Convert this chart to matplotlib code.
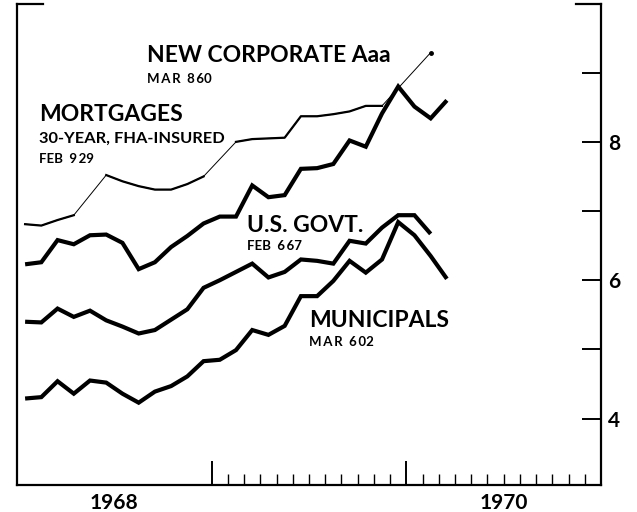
import numpy as np
import matplotlib

matplotlib.use("Agg")
import matplotlib.pyplot as plt

# monthly yields, Jan 1968 onward (percent)
corporate = [6.23, 6.26, 6.58, 6.52, 6.65, 6.66, 6.54, 6.16, 6.26, 6.48, 6.64, 6.82,
             6.92, 6.92, 7.37, 7.20, 7.23, 7.61, 7.62, 7.68, 8.02, 7.93, 8.41, 8.80,
             8.51, 8.34, 8.60]
mortgages = [6.81, 6.79, 6.87, 6.94, np.nan, 7.52, 7.43, 7.36, 7.31, 7.31, 7.39, 7.50,
             np.nan, 8.00, 8.04, 8.05, 8.06, 8.37, 8.37, 8.40, 8.44, 8.52, 8.52, np.nan,
             np.nan, 9.29]
govt = [5.40, 5.39, 5.59, 5.47, 5.56, 5.42, 5.33, 5.23, 5.28, 5.43, 5.58, 5.89,
        6.00, 6.12, 6.24, 6.04, 6.12, 6.30, 6.28, 6.24, 6.57, 6.53, 6.76, 6.94,
        6.94, 6.67]
municipals = [4.29, 4.31, 4.54, 4.36, 4.55, 4.52, 4.36, 4.23, 4.39, 4.47, 4.61, 4.83,
              4.85, 4.99, 5.28, 5.21, 5.34, 5.77, 5.77, 5.99, 6.28, 6.11, 6.30, 6.84,
              6.65, 6.35, 6.02]

year_labels = ["1968", "1970"]
year_centers = [6, 30]
ytick_labels = [4, 6, 8]

FONT = "Lato"
TS = "\u2009"  # thin space, for the letter-spaced month tags


def month_x(values):
    return np.arange(len(values)) + 0.5


def main() -> None:
    fig = plt.figure(figsize=(6.37, 5.12), dpi=100)
    ax = fig.add_axes([17 / 637, 27 / 512, 584 / 637, 481.5 / 512])
    ax.set_xlim(0, 36)
    ax.set_ylim(3.04, 10.0)

    lw = 3.0
    for series in (corporate, govt, municipals):
        ax.plot(month_x(series), series, color="black", lw=lw,
                solid_joinstyle="miter", solid_capstyle="butt")

    mort = np.asarray(mortgages, dtype=float)
    mx = month_x(mort)
    ok = ~np.isnan(mort)
    ax.plot(mx[ok], mort[ok], color="black", lw=0.7)
    ax.plot(mx, mort, color="black", lw=1.6)
    ax.plot(mx[ok][-1:], mort[ok][-1:], "o", color="black", ms=2.5)

    # frame
    ax.spines["top"].set_visible(False)
    for side in ("left", "right", "bottom"):
        ax.spines[side].set_linewidth(1.6)
    ax.axhline(10.0, xmin=0, xmax=26 / 584, color="black", lw=1.6, clip_on=False)
    ax.axhline(10.0, xmin=1 - 25 / 584, xmax=1, color="black", lw=1.6, clip_on=False)

    # right axis ticks
    ax.yaxis.tick_right()
    ax.set_yticks([4, 5, 6, 7, 8, 9])
    ax.set_yticklabels([str(v) if v in ytick_labels else "" for v in [4, 5, 6, 7, 8, 9]])
    ax.tick_params(axis="y", direction="in", length=14, width=1.4, pad=5,
                   labelsize=15, right=True, left=False)
    for lab in ax.get_yticklabels():
        lab.set_fontfamily(FONT)
        lab.set_fontweight("bold")

    # bottom ticks: year boundaries and months of 1969-1970
    ax.set_xticks([12, 24])
    ax.set_xticks([m for m in range(13, 36) if m != 24], minor=True)
    ax.set_xticklabels([])
    ax.tick_params(axis="x", which="major", direction="in", length=17, width=1.4)
    ax.tick_params(axis="x", which="minor", direction="in", length=8, width=1.0)
    for xc, lab in zip(year_centers, year_labels):
        ax.text(xc, -0.016, lab, transform=ax.get_xaxis_transform(), ha="center",
                va="top", fontsize=15, fontfamily=FONT, fontweight="bold")

    big = dict(fontsize=16.5, fontfamily=FONT, fontweight="bold", va="baseline")
    small = dict(fontsize=9.5, fontfamily=FONT, fontweight="bold", va="baseline")
    ax.text(8.01, 9.15, "NEW CORPORATE Aaa", **big)
    ax.text(8.01, 8.85, f"M{TS}A{TS}R  8{TS}60", **small)
    ax.text(1.36, 8.30, "MORTGAGES", **big)
    ax.text(1.36, 7.99, "30-YEAR, FHA-INSURED", fontsize=11.8, fontfamily=FONT,
            fontweight="bold", va="baseline")
    ax.text(1.36, 7.69, f"FEB  9{TS}29", **small)
    ax.text(14.18, 6.69, "U.S. GOVT.", **big)
    ax.text(14.18, 6.43, f"FEB  6{TS}67", **small)
    ax.text(18.0, 5.32, "MUNICIPALS", **big)
    ax.text(18.0, 5.05, f"M{TS}A{TS}R  6{TS}02", **small)

    fig.savefig("out.png", dpi=100)
    plt.close(fig)


if __name__ == "__main__":
    main()
